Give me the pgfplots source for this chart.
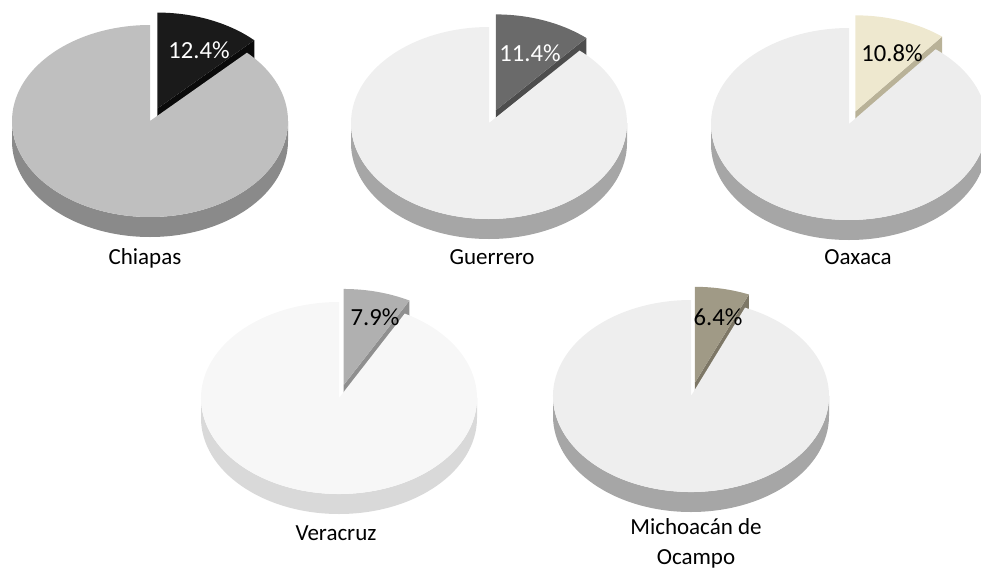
\documentclass[border=0pt]{standalone}
\usepackage{pgfplots}
\pgfplotsset{compat=1.18}
\usepackage{fontspec}
\setmainfont{Carlito}

\definecolor{cMainA}{HTML}{BFBFBF}\definecolor{cSideA}{HTML}{8A8A8A}
\definecolor{cSlA}{HTML}{1A1A1A}\definecolor{cSlSA}{HTML}{0A0A0A}
\definecolor{cMainB}{HTML}{EFEFEF}\definecolor{cSideB}{HTML}{A6A6A6}
\definecolor{cSlB}{HTML}{6A6A6A}\definecolor{cSlSB}{HTML}{4D4D4D}
\definecolor{cMainC}{HTML}{EDEDED}\definecolor{cSideC}{HTML}{A6A6A6}
\definecolor{cSlC}{HTML}{EEE8CF}\definecolor{cSlSC}{HTML}{B9B298}
\definecolor{cMainD}{HTML}{F7F7F7}\definecolor{cSideD}{HTML}{D9D9D9}
\definecolor{cSlD}{HTML}{B0B0B0}\definecolor{cSlSD}{HTML}{8F8F8F}
\definecolor{cMainE}{HTML}{EEEEEE}\definecolor{cSideE}{HTML}{A6A6A6}
\definecolor{cSlE}{HTML}{A09A86}\definecolor{cSlSE}{HTML}{7D7766}

% #1 cx, #2 cy, #3 value (percent), #4 main, #5 side, #6 slice, #7 slice side
\newcommand{\Pie}[7]{%
  % exploded slice: radial side face
  \fill[#7] (axis cs:#1,#2) ++({0.14*69pt*cos(90-1.8*#3)},{0.14*48pt*sin(90-1.8*#3)})
     -- ++({69pt*cos(90-3.6*#3)},{48pt*sin(90-3.6*#3)}) -- ++(0pt,-10pt)
     -- ++({-69pt*cos(90-3.6*#3)},{-48pt*sin(90-3.6*#3)}) -- cycle;
  % exploded slice: top face
  \fill[#6] (axis cs:#1,#2) ++({0.14*69pt*cos(90-1.8*#3)},{0.14*48pt*sin(90-1.8*#3)})
     -- ++(0pt,48pt) arc[start angle=90,end angle={90-3.6*#3},x radius=69pt,y radius=48pt] -- cycle;
  % main part: side wall
  \fill[#5] (axis cs:#1,#2) ++(-69pt,0pt)
     arc[start angle=180,end angle=360,x radius=69pt,y radius=48pt] -- ++(0pt,-10pt)
     arc[start angle=0,end angle=-180,x radius=69pt,y radius=48pt] -- cycle;
  % main part: top face
  \fill[#4] (axis cs:#1,#2) -- ++({69pt*cos(90-3.6*#3)},{48pt*sin(90-3.6*#3)})
     arc[start angle={90-3.6*#3},end angle=-270,x radius=69pt,y radius=48pt] -- cycle;
}

\begin{document}
\begin{tikzpicture}
\begin{axis}[
  hide axis, scale only axis, clip=false,
  width=490.5pt, height=285pt,
  xmin=0, xmax=981, ymin=0, ymax=570,
  at={(0pt,0pt)}, anchor=south west,
]
\Pie{150}{449}{12.4}{cMainA}{cSideA}{cSlA}{cSlSA}
\Pie{489}{447}{11.4}{cMainB}{cSideB}{cSlB}{cSlSB}
\Pie{849}{446}{10.8}{cMainC}{cSideC}{cSlC}{cSlSC}
\Pie{339}{172}{7.9}{cMainD}{cSideD}{cSlD}{cSlSD}
\Pie{691}{174}{6.4}{cMainE}{cSideE}{cSlE}{cSlSE}

\begin{scope}[every node/.style={font=\fontsize{11.5}{15}\selectfont, inner sep=0pt}]
\begin{scope}[every node/.append style={font=\fontsize{12.3}{15}\selectfont}]
\node[white] at (axis cs:199,520) {12.4\%};
\node[white] at (axis cs:530,517) {11.4\%};
\node at (axis cs:892,517) {10.8\%};
\node at (axis cs:375,253) {7.9\%};
\node at (axis cs:718,253) {6.4\%};
\end{scope}
\node at (axis cs:145,312) {Chiapas};
\node at (axis cs:492,313) {Guerrero};
\node at (axis cs:858,313) {Oaxaca};
\node at (axis cs:336,37) {Veracruz};
\node[align=center] at (axis cs:696,27) {Michoacán de\\Ocampo};
\end{scope}
\end{axis}
\pgfresetboundingbox
\path (0pt,0pt) rectangle (490.5pt,285pt);
\end{tikzpicture}
\end{document}
